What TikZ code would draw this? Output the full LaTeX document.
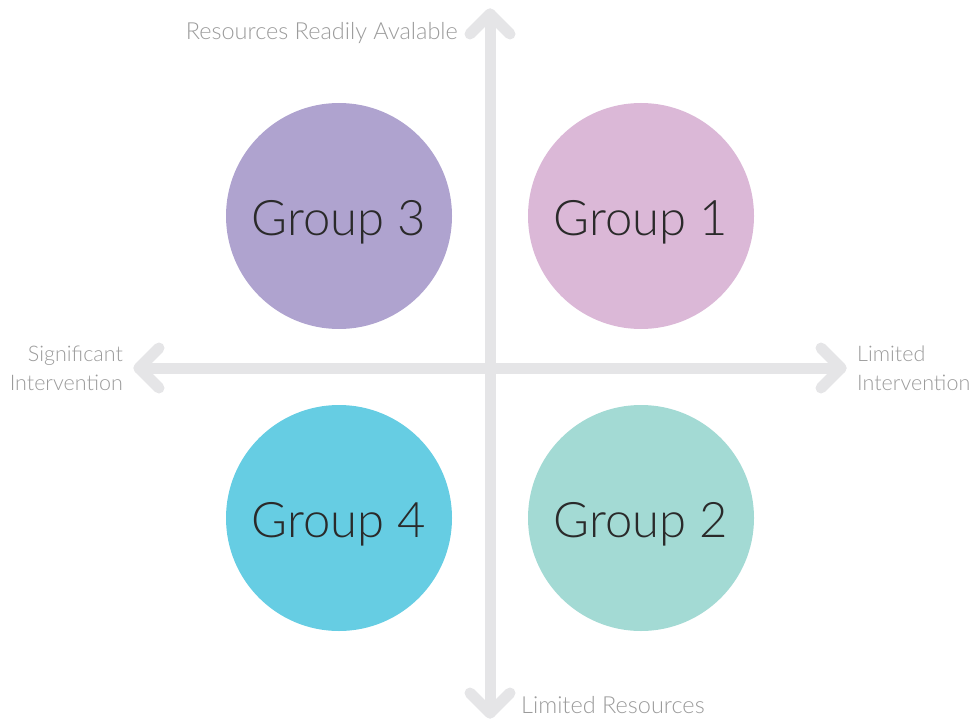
\documentclass[tikz,border=0pt]{standalone}
\usepackage{fontspec}
\setmainfont{Lato Light}
\begin{document}
\begin{tikzpicture}[x=1pt,y=-1pt,
  axis/.style={draw=axisgray,line width=11pt,line cap=round,line join=round},
  grp/.style={circle,minimum size=226pt,inner sep=0pt,text height=38pt,text depth=0pt,
    font=\fontsize{49}{52}\selectfont,text=grouptext},
  lbl/.style={text=labelgray,font=\fontsize{21.5}{29}\selectfont,inner sep=0pt,align=#1},
  lbl/.default=left,
  biglbl/.style={text=labelgray,font=\fontsize{23.5}{29}\selectfont,inner sep=0pt}]
\definecolor{axisgray}{HTML}{E5E5E7}
\definecolor{labelgray}{HTML}{9B9B9B}
\definecolor{grouptext}{HTML}{2A2A2A}
\definecolor{g1}{HTML}{DBB8D7}
\definecolor{g2}{HTML}{A3DAD4}
\definecolor{g3}{HTML}{AFA3CF}
\definecolor{g4}{HTML}{66CDE3}
\useasboundingbox (0,0) rectangle (973,722);
% axis end points
\coordinate (top) at (490,14);
\coordinate (bot) at (490,713);
\coordinate (lft) at (139,368);
\coordinate (rgt) at (841,368);
% axes
\draw[axis] (top) -- (bot);
\draw[axis] (lft) -- (rgt);
\draw[axis] ([shift={(-20,20)}]top) -- (top) -- ([shift={(20,20)}]top);
\draw[axis] ([shift={(-20,-20)}]bot) -- (bot) -- ([shift={(20,-20)}]bot);
\draw[axis] ([shift={(20,-20)}]lft) -- (lft) -- ([shift={(20,20)}]lft);
\draw[axis] ([shift={(-20,-20)}]rgt) -- (rgt) -- ([shift={(-20,20)}]rgt);
% groups
\node[grp,fill=g3] (G3) at (339,216) {Group 3};
\node[grp,fill=g1] (G1) at (641,216) {Group 1};
\node[grp,fill=g4] (G4) at (339,518) {Group 4};
\node[grp,fill=g2] (G2) at (641,518) {Group 2};
% labels
\node[biglbl,anchor=east] (lt) at (458,33) {Resources Readily Avalable};
\node[biglbl,anchor=west] (lb) at (521,705) {Limited Resources};
\node[lbl=right,anchor=east] (ll) at (123,368) {Significant\\Intervention};
\node[lbl=left,anchor=west] (lr) at (857,368) {Limited\\Intervention};
\end{tikzpicture}
\end{document}
